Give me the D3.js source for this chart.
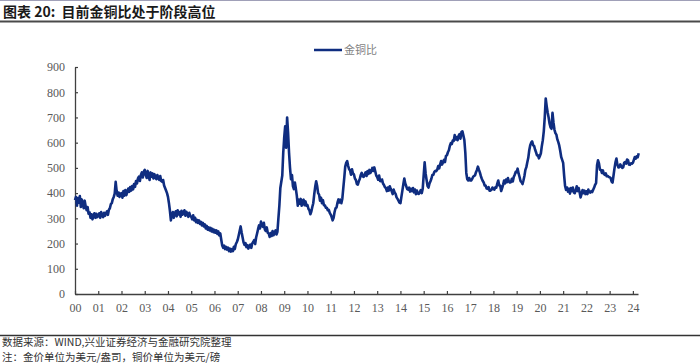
<!DOCTYPE html>
<html>
<head>
<meta charset="utf-8">
<script src="https://cdn.jsdelivr.net/npm/d3@7"></script>
<style>
    body { margin: 0; background: #fff; }
    svg { display: block; }
</style>
</head>
<body>
<svg id="chart-area"></svg>
<script>
// gold / copper ratio, two readings per month, 2000 - early 2024
const startYear = 2000
const perYear = 24
const ratio = [
    372, 385, 350, 380, 362, 388, 345, 375, 358, 340, 370, 348, 332, 345, 318, 324, 302, 316, 296, 310, 320, 302, 318, 305, // 00
    312, 320, 302, 325, 312, 305, 322, 310, 320, 328, 314, 334, 340, 356, 360, 376, 385, 398, 445, 408, 390, 402, 385, 398, // 01
    400, 382, 408, 390, 412, 392, 405, 418, 405, 424, 410, 428, 415, 436, 425, 448, 438, 458, 465, 448, 472, 482, 462, 485, // 02
    492, 472, 460, 488, 468, 452, 482, 465, 478, 458, 475, 462, 455, 472, 460, 452, 468, 448, 445, 452, 430, 420, 410, 400, // 03
    385, 360, 330, 292, 312, 325, 302, 320, 328, 308, 332, 315, 325, 306, 330, 314, 322, 332, 310, 326, 316, 306, 322, 310, // 04
    306, 296, 312, 292, 302, 285, 294, 282, 292, 278, 286, 272, 282, 268, 276, 260, 270, 255, 264, 252, 262, 248, 258, 245, // 05
    254, 243, 252, 238, 248, 232, 240, 215, 192, 183, 192, 178, 187, 176, 184, 170, 180, 168, 178, 170, 187, 178, 197, 205, // 06
    215, 232, 250, 268, 245, 225, 205, 195, 202, 186, 194, 180, 190, 196, 183, 200, 206, 214, 198, 224, 240, 257, 272, 260, // 07
    287, 270, 266, 282, 256, 250, 264, 243, 240, 226, 242, 230, 250, 233, 244, 252, 236, 247, 300, 350, 420, 445, 470, 560, // 08
    620, 665, 580, 700, 640, 560, 500, 455, 472, 428, 416, 442, 418, 390, 350, 374, 358, 377, 350, 370, 374, 352, 367, 350, // 09
    352, 338, 332, 316, 327, 345, 360, 395, 425, 447, 428, 400, 394, 370, 382, 360, 372, 352, 352, 342, 342, 332, 334, 322, // 10
    315, 305, 292, 302, 325, 340, 343, 362, 375, 363, 374, 360, 378, 420, 460, 505, 520, 527, 508, 495, 490, 473, 494, 478, // 11
    474, 458, 452, 436, 434, 447, 456, 472, 480, 466, 464, 474, 482, 468, 487, 476, 492, 480, 487, 500, 488, 502, 486, 470, // 12
    464, 453, 470, 448, 447, 454, 438, 432, 423, 420, 408, 422, 410, 427, 416, 407, 396, 414, 403, 397, 383, 377, 370, 362, // 13
    360, 385, 410, 435, 458, 438, 427, 416, 414, 422, 406, 417, 408, 420, 403, 414, 396, 410, 398, 397, 403, 412, 400, 417, // 14
    470, 522, 478, 452, 428, 422, 438, 447, 458, 472, 473, 484, 488, 487, 493, 507, 498, 514, 527, 513, 522, 532, 523, 547, // 15
    550, 562, 570, 587, 598, 594, 608, 607, 630, 613, 622, 610, 627, 634, 616, 642, 645, 628, 610, 560, 480, 455, 450, 460, // 16
    450, 450, 456, 464, 468, 470, 483, 492, 505, 493, 482, 468, 457, 448, 442, 430, 430, 418, 417, 424, 410, 410, 413, 422, // 17
    416, 414, 423, 422, 438, 450, 430, 430, 408, 420, 433, 450, 438, 454, 443, 460, 446, 442, 443, 457, 446, 464, 473, 484, // 18
    483, 497, 478, 464, 448, 444, 436, 450, 468, 492, 503, 522, 540, 570, 590, 600, 605, 590, 587, 573, 562, 550, 550, 538, // 19
    547, 558, 587, 610, 645, 700, 775, 745, 720, 700, 675, 660, 655, 718, 680, 652, 638, 632, 613, 602, 588, 567, 543, 532, // 20
    520, 470, 428, 413, 422, 406, 417, 398, 420, 408, 422, 403, 400, 410, 427, 408, 420, 403, 383, 397, 412, 400, 410, 396, // 21
    407, 396, 414, 403, 402, 408, 404, 413, 422, 433, 440, 510, 530, 518, 493, 492, 480, 490, 476, 472, 478, 467, 468, 464, // 22
    463, 460, 446, 442, 470, 498, 522, 537, 513, 502, 503, 514, 506, 500, 503, 520, 523, 517, 533, 530, 513, 512, 518, 517, // 23
    520, 532, 543, 537, 546, 542, 558                                                                                       // 24
]
const yearLabels = ["00","01","02","03","04","05","06","07","08","09","10","11","12",
                    "13","14","15","16","17","18","19","20","21","22","23","24"]
const yTicks = [0, 100, 200, 300, 400, 500, 600, 700, 800, 900]
const seriesName = "金铜比"
const title = "图表 20:  目前金铜比处于阶段高位"
const source = "数据来源：WIND,兴业证券经济与金融研究院整理"
const note = "注：金价单位为美元/盎司，铜价单位为美元/磅"

const width = 700
const height = 363
const lineColor = "#0f2d80"
const axisColor = "#404040"
const labelColor = "#595959"

const svg = d3.select("#chart-area")
    .attr("width", width)
    .attr("height", height)

const points = ratio.map((v, i) => ({ t: startYear + i / perYear, v: v }))

const x = d3.scaleLinear()
    .domain([startYear, startYear + 24.22])
    .range([75, 638])

const y = d3.scaleLinear()
    .domain([0, 900])
    .range([294, 67])

// title + rules
svg.append("line")
    .attr("x1", 0).attr("x2", width)
    .attr("y1", 0.5).attr("y2", 0.5)
    .attr("stroke", "#a0a0b8").attr("stroke-width", 1)

svg.append("text")
    .attr("x", 3).attr("y", 17)
    .attr("font-family", "'Noto Sans CJK SC', sans-serif")
    .attr("font-size", 14)
    .attr("font-weight", "bold")
    .attr("fill", "#1a1a1a")
    .attr("xml:space", "preserve")
    .text(title)

svg.append("line")
    .attr("x1", 0).attr("x2", width)
    .attr("y1", 21.5).attr("y2", 21.5)
    .attr("stroke", "#4a4a4a").attr("stroke-width", 2)

// axes
const xAxis = d3.axisBottom(x)
    .tickValues(yearLabels.map((d, i) => startYear + i))
    .tickFormat((d, i) => yearLabels[i])
    .tickSizeInner(-3)
    .tickSizeOuter(0)
    .tickPadding(9)

const gx = svg.append("g")
    .attr("transform", `translate(0,${y(0)})`)
    .call(xAxis)

const yAxis = d3.axisLeft(y)
    .tickValues(yTicks)
    .tickSizeInner(-3)
    .tickSizeOuter(0)
    .tickPadding(10)

const gy = svg.append("g")
    .attr("transform", `translate(${x(startYear)},0)`)
    .call(yAxis)

gx.select(".domain").attr("stroke", axisColor).attr("stroke-width", 1.3)
gy.select(".domain").attr("stroke", axisColor).attr("stroke-width", 1.3)
svg.selectAll(".tick line").attr("stroke", axisColor).attr("stroke-width", 1.2)
svg.selectAll(".tick text")
    .attr("fill", labelColor)
    .attr("font-family", "'Liberation Serif', serif")
    .attr("font-size", 12)

// series
const line = d3.line()
    .x(d => x(d.t))
    .y(d => y(d.v))

svg.append("path")
    .datum(points)
    .attr("fill", "none")
    .attr("stroke", lineColor)
    .attr("stroke-width", 2.6)
    .attr("stroke-linejoin", "round")
    .attr("d", line)

// legend
svg.append("line")
    .attr("x1", 314).attr("x2", 342)
    .attr("y1", 50).attr("y2", 50)
    .attr("stroke", lineColor).attr("stroke-width", 2.5)

svg.append("text")
    .attr("x", 344).attr("y", 54)
    .attr("font-family", "'Noto Sans CJK SC', sans-serif")
    .attr("font-size", 11)
    .attr("fill", "#7f7f7f")
    .text(seriesName)

// footer
svg.append("line")
    .attr("x1", 0).attr("x2", width)
    .attr("y1", 335.5).attr("y2", 335.5)
    .attr("stroke", "#333").attr("stroke-width", 1.5)

svg.selectAll(".foot")
    .data([source, note])
    .enter().append("text")
    .attr("class", "foot")
    .attr("x", 2)
    .attr("y", (d, i) => 346 + i * 15)
    .attr("font-family", "'Noto Sans CJK SC', sans-serif")
    .attr("font-size", 10.5)
    .attr("fill", "#333")
    .text(d => d)
</script>
</body>
</html>
